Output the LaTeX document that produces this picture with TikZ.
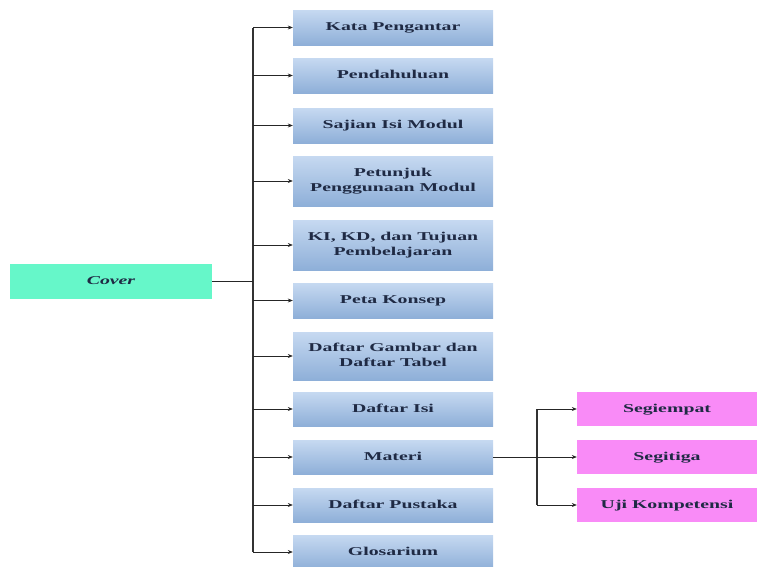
\documentclass[tikz,border=0pt]{standalone}
\usepackage{fontspec}
\setmainfont{Liberation Serif}
\usetikzlibrary{arrows.meta,shadings}
\definecolor{bluetop}{HTML}{C6D9F1}
\definecolor{bluebot}{HTML}{8EAFD8}
\definecolor{coverc}{HTML}{66F7C9}
\definecolor{pinkc}{HTML}{F98BF7}
\definecolor{txtc}{HTML}{1F2A44}
\newcommand{\wtxt}[1]{\scalebox{1.65}[1]{\begin{tabular}{@{}c@{}}#1\end{tabular}}}
\tikzset{
  x=1pt,y=-1pt,
  bluebox/.style={draw=none,top color=bluetop,bottom color=bluebot,minimum width=200pt,inner sep=0pt,font=\bfseries\fontsize{12}{15}\selectfont,text=txtc},
  pinkbox/.style={draw=none,fill=pinkc,minimum width=180pt,minimum height=34pt,inner sep=0pt,font=\bfseries\fontsize{12}{15}\selectfont,text=txtc},
  coverbox/.style={draw=none,fill=coverc,minimum width=202pt,minimum height=35pt,inner sep=0pt,font=\bfseries\itshape\fontsize{12}{15}\selectfont,text=txtc},
  trunk/.style={line width=1.8pt,draw=black!80},
  branch/.style={line width=0.6pt,draw=black!85,-{Stealth[length=5pt,width=4pt]}},
  plainline/.style={line width=0.6pt,draw=black!85}
}
\begin{document}
\begin{tikzpicture}
\useasboundingbox (0,0) rectangle (763,566);
% blue boxes
\node[bluebox,minimum height=35pt] (b1) at (393,27.5) {\wtxt{Kata Pengantar}};
\node[bluebox,minimum height=35pt] (b2) at (393,75.5) {\wtxt{Pendahuluan}};
\node[bluebox,minimum height=35pt] (b3) at (393,125.5) {\wtxt{Sajian Isi Modul}};
\node[bluebox,minimum height=50pt] (b4) at (393,181) {\wtxt{Petunjuk\\Penggunaan Modul}};
\node[bluebox,minimum height=50pt] (b5) at (393,245) {\wtxt{KI, KD, dan Tujuan\\Pembelajaran}};
\node[bluebox,minimum height=35pt] (b6) at (393,300.5) {\wtxt{Peta Konsep}};
\node[bluebox,minimum height=48pt] (b7) at (393,356) {\wtxt{Daftar Gambar dan\\Daftar Tabel}};
\node[bluebox,minimum height=34pt] (b8) at (393,409) {\wtxt{Daftar Isi}};
\node[bluebox,minimum height=34pt] (b9) at (393,457) {\wtxt{Materi}};
\node[bluebox,minimum height=34pt] (b10) at (393,505) {\wtxt{Daftar Pustaka}};
\node[bluebox,minimum height=34pt] (b11) at (393,552) {\wtxt{Glosarium}};
% cover
\node[coverbox] (cover) at (111,281) {\wtxt{Cover}};
% pink
\node[pinkbox] (p1) at (667,409) {\wtxt{Segiempat}};
\node[pinkbox] (p2) at (667,457) {\wtxt{Segitiga}};
\node[pinkbox] (p3) at (667,505) {\wtxt{Uji Kompetensi}};
% trunk
\coordinate (tt) at (253,27.5);
\coordinate (tb) at (253,552);
\coordinate (tc) at (253,281);
\draw[trunk] (tt) -- (tb);
\draw[plainline] (cover.east) -- (tc);
\foreach \i in {1,...,11}{
  \draw[branch] (tt |- b\i.west) -- (b\i.west);
}
% second trunk
\coordinate (st) at (537,409);
\coordinate (sb) at (537,505);
\draw[trunk,line width=1.4pt] (st) -- (sb);
\draw[plainline] (b9.east) -- (st |- b9.east);
\foreach \i in {1,2,3}{
  \draw[branch] (st |- p\i.west) -- (p\i.west);
}
\end{tikzpicture}
\end{document}
